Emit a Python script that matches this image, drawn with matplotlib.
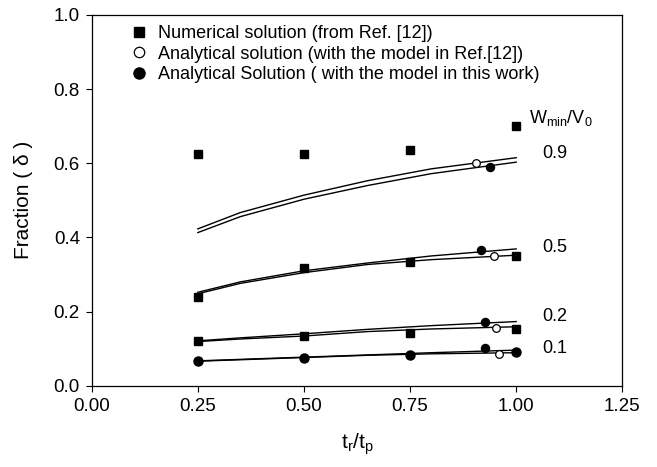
import matplotlib
matplotlib.use("Agg")
import matplotlib.pyplot as plt
from matplotlib.lines import Line2D

plt.rcParams['font.family'] = ['Liberation Sans', 'DejaVu Sans']
plt.rcParams['mathtext.fontset'] = 'custom'
plt.rcParams['mathtext.rm'] = 'Liberation Sans'

# ---- data ----
t_num = [0.25, 0.50, 0.75, 1.00]
num_09 = [0.625, 0.625, 0.635, 0.700]
num_05 = [0.240, 0.318, 0.335, 0.350]
num_02 = [0.120, 0.135, 0.141, 0.152]
num_01 = [0.067, 0.074, 0.083, 0.090]

t_curve = [0.25, 0.35, 0.50, 0.65, 0.80, 1.00]
c09_a = [0.423, 0.467, 0.514, 0.553, 0.585, 0.615]
c09_b = [0.413, 0.456, 0.503, 0.540, 0.572, 0.603]
c05_a = [0.252, 0.280, 0.310, 0.331, 0.350, 0.369]
c05_b = [0.248, 0.276, 0.305, 0.327, 0.340, 0.352]
c02_a = [0.121, 0.129, 0.140, 0.152, 0.162, 0.173]
c02_b = [0.119, 0.126, 0.134, 0.146, 0.153, 0.159]
c01_a = [0.067, 0.071, 0.077, 0.083, 0.089, 0.096]
c01_b = [0.066, 0.070, 0.076, 0.082, 0.086, 0.089]

open_x = [0.905, 0.948, 0.952, 0.960]
open_y = [0.602, 0.351, 0.155, 0.085]
fill_x = [0.938, 0.917, 0.927, 0.927]
fill_y = [0.591, 0.366, 0.171, 0.101]

ratio_labels = ['0.9', '0.5', '0.2', '0.1']
ratio_label_y = [0.627, 0.372, 0.186, 0.101]

xticks = [0.00, 0.25, 0.50, 0.75, 1.00, 1.25]
yticks = [0.0, 0.2, 0.4, 0.6, 0.8, 1.0]

fig = plt.figure(figsize=(6.57, 4.67), dpi=100)
ax = fig.add_axes([0.1396, 0.1741, 0.8076, 0.7938])

for ca, cb in [(c09_a, c09_b), (c05_a, c05_b), (c02_a, c02_b), (c01_a, c01_b)]:
    ax.plot(t_curve, ca, color='black', lw=1.0, zorder=2)
    ax.plot(t_curve, cb, color='black', lw=1.0, zorder=2)

for ys in [num_09, num_05, num_02]:
    ax.plot(t_num, ys, ls='none', marker='s', ms=5.2, color='black', zorder=3)
ax.plot(t_num, num_01, ls='none', marker='o', ms=6.5, color='black', zorder=3)

ax.plot(open_x, open_y, ls='none', marker='o', ms=5.5, mfc='white', mec='black', mew=0.9, zorder=4)
ax.plot(fill_x, fill_y, ls='none', marker='o', ms=5.8, color='black', zorder=4)

for lab, yv in zip(ratio_labels, ratio_label_y):
    ax.text(1.092, yv, lab, fontsize=13, ha='center', va='center')
ax.text(1.106, 0.722, 'W$_\\mathregular{min}$/V$_\\mathregular{0}$', fontsize=13, ha='center', va='center')

ax.set_xlim(0, 1.25)
ax.set_ylim(0, 1.0)
ax.set_xticks(xticks)
ax.set_xticklabels([f'{v:.2f}' for v in xticks])
ax.set_yticks(yticks)
ax.set_yticklabels([f'{v:.1f}' for v in yticks])
ax.tick_params(direction='out', length=4.5, width=0.8, labelsize=13.5, pad=4)
for s in ax.spines.values():
    s.set_linewidth(0.9)

ax.set_xlabel('t$_\\mathregular{r}$/t$_\\mathregular{p}$', fontsize=15, labelpad=12)
ax.set_ylabel('Fraction ( δ )', fontsize=15, labelpad=15)

handles = [
    Line2D([], [], ls='none', marker='s', ms=7, color='black'),
    Line2D([], [], ls='none', marker='o', ms=7.5, mfc='white', mec='black', mew=0.9),
    Line2D([], [], ls='none', marker='o', ms=8, color='black'),
]
labels = ['Numerical solution (from Ref. [12])',
          'Analytical solution (with the model in Ref.[12])',
          'Analytical Solution ( with the model in this work)']
ax.legend(handles, labels, loc='upper left', bbox_to_anchor=(0.0756, 0.973), frameon=False,
          fontsize=13, handlelength=0.8, handletextpad=0.65, labelspacing=0.2,
          borderpad=0, borderaxespad=0)

fig.savefig('out.png', dpi=100)
